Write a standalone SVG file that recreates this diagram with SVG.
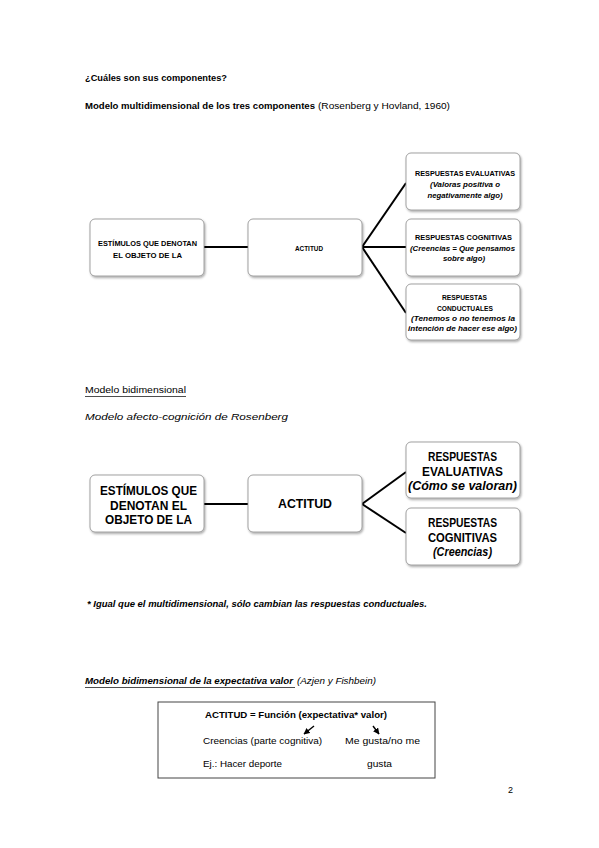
<svg xmlns="http://www.w3.org/2000/svg" width="599" height="848" viewBox="0 0 599 848">
<defs>
<filter id="sh" x="-10%" y="-10%" width="125%" height="130%">
<feDropShadow dx="1" dy="1.5" stdDeviation="1" flood-color="#000" flood-opacity="0.35"/>
</filter>
<marker id="ar" viewBox="0 0 10 10" refX="9" refY="5" markerWidth="4.5" markerHeight="4.5" orient="auto">
<path d="M0,0 L10,5 L0,10 z" fill="#000"/>
</marker>
</defs>
<style>
text{font-family:"Liberation Sans",Arial,sans-serif;fill:#000}
.b{font-weight:bold}
.i{font-style:italic}
.h{font-size:9px}
.s{font-size:7.5px;text-anchor:middle}
.m{font-size:13px;font-weight:bold;text-anchor:middle}
.t{font-size:9.5px}
.box{fill:#fff;stroke:#8c8c8c;stroke-width:0.8;filter:url(#sh)}
.ln{stroke:#000;stroke-width:2;fill:none}
</style>
<rect width="599" height="848" fill="#fff"/>

<text class="h b" x="85" y="80.5" textLength="142" lengthAdjust="spacingAndGlyphs">¿Cuáles son sus componentes?</text>
<text class="h b" x="85" y="108.5" textLength="230" lengthAdjust="spacingAndGlyphs">Modelo multidimensional de los tres componentes</text>
<text class="h" x="318" y="108.5" textLength="132" lengthAdjust="spacingAndGlyphs">(Rosenberg y Hovland, 1960)</text>

<g id="connectors1">
<line class="ln" x1="204" y1="247" x2="248" y2="247"/>
<line class="ln" x1="362" y1="247" x2="406" y2="183"/>
<line class="ln" x1="362" y1="247" x2="406" y2="247"/>
<line class="ln" x1="362" y1="247" x2="406" y2="313"/>
</g>
<g id="n1-estimulos">
<rect class="box" x="90" y="219" width="114" height="57" rx="5"/>
<text class="s b" x="147.5" y="245.5" textLength="99" lengthAdjust="spacingAndGlyphs">ESTÍMULOS QUE DENOTAN</text>
<text class="s b" x="147.5" y="257.5" textLength="69" lengthAdjust="spacingAndGlyphs">EL OBJETO DE LA</text>
</g>
<g id="n1-actitud">
<rect class="box" x="248" y="219" width="114" height="57" rx="5"/>
<text class="s b" x="309" y="250.5" textLength="28" lengthAdjust="spacingAndGlyphs">ACTITUD</text>
</g>
<g id="n1-evaluativas">
<rect class="box" x="406" y="153" width="114" height="57" rx="5"/>
<text class="s b" x="465" y="175.5" textLength="100" lengthAdjust="spacingAndGlyphs">RESPUESTAS EVALUATIVAS</text>
<text class="s b i" x="465" y="187" textLength="70" lengthAdjust="spacingAndGlyphs">(Valoras positiva o</text>
<text class="s b i" x="465" y="198" textLength="75" lengthAdjust="spacingAndGlyphs">negativamente algo)</text>
</g>
<g id="n1-cognitivas">
<rect class="box" x="406" y="219" width="114" height="57" rx="5"/>
<text class="s b" x="463.5" y="239.5" textLength="97" lengthAdjust="spacingAndGlyphs">RESPUESTAS COGNITIVAS</text>
<text class="s b i" x="462.5" y="250.5" textLength="105" lengthAdjust="spacingAndGlyphs">(Creencias = Que pensamos</text>
<text class="s b i" x="464" y="261" textLength="42" lengthAdjust="spacingAndGlyphs">sobre algo)</text>
</g>
<g id="n1-conductuales">
<rect class="box" x="406" y="284" width="114" height="56" rx="5"/>
<text class="s b" x="464.5" y="299.5" textLength="45" lengthAdjust="spacingAndGlyphs">RESPUESTAS</text>
<text class="s b" x="465" y="310.5" textLength="56" lengthAdjust="spacingAndGlyphs">CONDUCTUALES</text>
<text class="s b i" x="463" y="320.5" textLength="104" lengthAdjust="spacingAndGlyphs">(Tenemos o no tenemos la</text>
<text class="s b i" x="462.5" y="330.5" textLength="109" lengthAdjust="spacingAndGlyphs">intención de hacer ese algo)</text>
</g>

<text class="h" x="85" y="393" textLength="101" lengthAdjust="spacingAndGlyphs">Modelo bidimensional</text>
<line x1="85" y1="396.5" x2="186" y2="396.5" stroke="#000" stroke-width="0.7"/>
<text class="h i" x="85" y="420" textLength="203" lengthAdjust="spacingAndGlyphs">Modelo afecto-cognición de Rosenberg</text>

<g id="connectors2">
<line class="ln" x1="204" y1="504" x2="248" y2="504"/>
<line class="ln" x1="362" y1="504" x2="406" y2="472"/>
<line class="ln" x1="362" y1="504" x2="406" y2="533"/>
</g>
<g id="n2-estimulos">
<rect class="box" x="90" y="475" width="114" height="57" rx="5"/>
<text class="m" x="148.5" y="495" textLength="97" lengthAdjust="spacingAndGlyphs">ESTÍMULOS QUE</text>
<text class="m" x="148.5" y="509.5" textLength="77" lengthAdjust="spacingAndGlyphs">DENOTAN EL</text>
<text class="m" x="148.5" y="524" textLength="87" lengthAdjust="spacingAndGlyphs">OBJETO DE LA</text>
</g>
<g id="n2-actitud">
<rect class="box" x="248" y="475" width="114" height="57" rx="5"/>
<text class="m" x="305" y="508" textLength="54" lengthAdjust="spacingAndGlyphs">ACTITUD</text>
</g>
<g id="n2-evaluativas">
<rect class="box" x="406" y="442" width="114" height="56" rx="5"/>
<text class="m" x="462.5" y="460.5" textLength="69" lengthAdjust="spacingAndGlyphs">RESPUESTAS</text>
<text class="m" x="462.5" y="475.5" textLength="81" lengthAdjust="spacingAndGlyphs">EVALUATIVAS</text>
<text class="m i" x="462.5" y="490" textLength="109" lengthAdjust="spacingAndGlyphs" font-weight="normal">(Cómo se valoran)</text>
</g>
<g id="n2-cognitivas">
<rect class="box" x="406" y="508" width="114" height="57" rx="5"/>
<text class="m" x="462.5" y="526.5" textLength="69" lengthAdjust="spacingAndGlyphs">RESPUESTAS</text>
<text class="m" x="462.5" y="541.5" textLength="69" lengthAdjust="spacingAndGlyphs">COGNITIVAS</text>
<text class="m i" x="462.5" y="556" textLength="59" lengthAdjust="spacingAndGlyphs" font-weight="normal">(Creencias)</text>
</g>

<text class="h b i" x="87" y="607" textLength="340" lengthAdjust="spacingAndGlyphs">* Igual que el multidimensional, sólo cambian las respuestas conductuales.</text>

<text class="h b i" x="85" y="684" textLength="208" lengthAdjust="spacingAndGlyphs">Modelo bidimensional de la expectativa valor</text>
<line x1="85" y1="687.5" x2="295" y2="687.5" stroke="#000" stroke-width="0.7"/>
<text class="h i" x="297" y="684" textLength="79" lengthAdjust="spacingAndGlyphs">(Azjen y Fishbein)</text>

<g id="n3-formula">
<rect x="158" y="702" width="277" height="76" fill="#fff" stroke="#444" stroke-width="1"/>
<text class="t b" x="205" y="718" textLength="182" lengthAdjust="spacingAndGlyphs">ACTITUD = Función (expectativa* valor)</text>
<text class="t" x="203" y="744" textLength="119" lengthAdjust="spacingAndGlyphs">Creencias (parte cognitiva)</text>
<text class="t" x="345" y="744" textLength="75" lengthAdjust="spacingAndGlyphs">Me gusta/no me</text>
<text class="t" x="203" y="767" textLength="79" lengthAdjust="spacingAndGlyphs">Ej.: Hacer deporte</text>
<text class="t" x="367" y="767" textLength="25" lengthAdjust="spacingAndGlyphs">gusta</text>
</g>
<g id="connectors3">
<line x1="314" y1="726" x2="304" y2="734" stroke="#000" stroke-width="1.4" marker-end="url(#ar)"/>
<line x1="373" y1="726" x2="379" y2="734" stroke="#000" stroke-width="1.4" marker-end="url(#ar)"/>
</g>

<text class="h" x="508" y="793">2</text>
</svg>
